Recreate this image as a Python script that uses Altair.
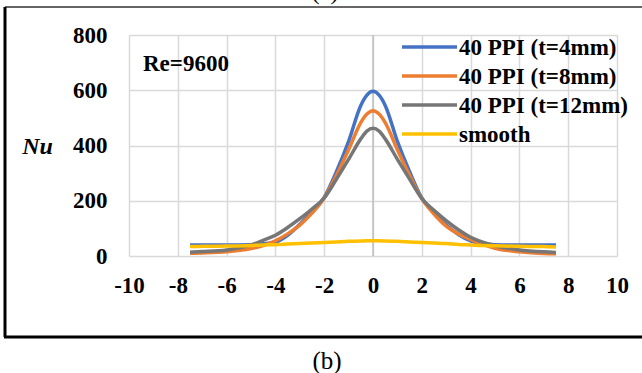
import altair as alt
import pandas as pd

# ---- data ----
x_vals = [-7.5, -7, -6, -5, -4.5, -4, -3.5, -3, -2.5, -2, -1.5, -1, -0.5, -0.25, 0,
          0.25, 0.5, 1, 1.5, 2, 2.5, 3, 3.5, 4, 4.5, 5, 6, 7, 7.5]
nu_t4 = [40, 40, 40, 41, 44, 50, 75, 115, 160, 212, 305, 415, 545, 582, 596,
         582, 545, 415, 305, 210, 158, 112, 78, 55, 45, 41, 40, 40, 40]
nu_t8 = [10, 11, 15, 27, 38, 55, 80, 112, 155, 210, 292, 385, 483, 514, 526,
         514, 483, 385, 292, 208, 152, 108, 80, 60, 42, 28, 15, 9, 8]
nu_t12 = [14, 16, 22, 40, 57, 75, 103, 135, 170, 210, 278, 350, 424, 452, 462,
          452, 424, 350, 278, 208, 165, 128, 95, 68, 50, 37, 22, 15, 13]
nu_smooth = [34, 35, 36, 38, 40, 41, 43, 45, 47, 49, 51, 53, 54, 55, 55,
             55, 54, 53, 51, 49, 47, 45, 42, 40, 38, 37, 35, 34, 33]

series_names = ["40 PPI (t=4mm)", "40 PPI (t=8mm)", "40 PPI (t=12mm)", "smooth"]
series_colors = ["#4472C4", "#ED7D31", "#767676", "#FFC000"]
series_values = [nu_t4, nu_t8, nu_t12, nu_smooth]

x_ticks = [-10, -8, -6, -4, -2, 0, 2, 4, 6, 8, 10]
y_ticks = [0, 200, 400, 600, 800]
annotation = "Re=9600"
caption = "(b)"
top_caption = "(a)"

rows = []
for name, vals in zip(series_names, series_values):
    for xv, yv in zip(x_vals, vals):
        rows.append({"x": xv, "Nu": yv, "series": name})
df = pd.DataFrame(rows)

FONT = "Liberation Serif"
W, H = 488, 221

color_scale = alt.Scale(domain=series_names, range=series_colors)
xs = alt.Scale(domain=[-10, 10], nice=False)
ys = alt.Scale(domain=[0, 800], nice=False)

label_expr = "datum.value < 0 ? '-' + abs(datum.value) : '' + datum.value"

base_axes = alt.Chart(df).mark_line(strokeWidth=0, opacity=0).encode(
    x=alt.X("x:Q", scale=xs,
            axis=alt.Axis(values=x_ticks, title="x/b", grid=True, gridColor="#d9d9d9",
                          gridWidth=1.5, domain=False, ticks=False, labelPadding=18,
                          labelExpr=label_expr, labelFlush=False, labelOverlap=False,
                          labelFont=FONT, labelFontSize=23, labelFontWeight="bold",
                          labelColor="black", titleFont=FONT, titleFontSize=24,
                          titleFontWeight="bold", titleFontStyle="italic",
                          titleColor="black", titleX=244, titleY=285,
                          titleBaseline="middle", titleAlign="center")),
    y=alt.Y("Nu:Q", scale=ys,
            axis=alt.Axis(values=y_ticks, title="Nu", grid=True, gridColor="#d9d9d9",
                          gridWidth=1.5, domain=False, ticks=False, labelPadding=22,
                          labelFlush=False,
                          labelFont=FONT, labelFontSize=23, labelFontWeight="bold",
                          labelColor="black", titleFont=FONT, titleFontSize=24,
                          titleFontWeight="bold", titleFontStyle="italic",
                          titleColor="black", titleAngle=0, titleX=-92, titleY=111,
                          titleBaseline="middle", titleAlign="center")),
)

zero_line = alt.Chart(pd.DataFrame({"x0": [0]})).mark_rule(
    color="#bfbfbf", strokeWidth=1.5).encode(x=alt.X("x0:Q", scale=xs))

layers = [base_axes, zero_line]
for name in series_names:
    layers.append(
        alt.Chart(df).transform_filter(alt.datum.series == name)
        .mark_line(strokeWidth=3.5, interpolate="monotone")
        .encode(x=alt.X("x:Q", scale=xs), y=alt.Y("Nu:Q", scale=ys),
                color=alt.Color("series:N", scale=color_scale, legend=None))
    )

# manual legend (one row per series)
for i, (name, col) in enumerate(zip(series_names, series_colors)):
    row_y = 12 + 29 * i
    ldf = pd.DataFrame({"series": [name]})
    layers.append(alt.Chart(ldf).mark_rule(strokeWidth=3.5, color=col).encode(
        x=alt.value(273), x2=alt.value(328), y=alt.value(row_y)))
    layers.append(alt.Chart(ldf).mark_text(
        align="left", baseline="middle", font=FONT, fontSize=23, fontWeight="bold",
        color="black").encode(x=alt.value(330), y=alt.value(row_y + 1), text="series:N"))

re_text = alt.Chart(pd.DataFrame({"t": [annotation]})).mark_text(
    align="left", baseline="middle", font=FONT, fontSize=23, fontWeight="bold",
    color="black").encode(x=alt.value(14), y=alt.value(29), text="t:N")

cap_b = alt.Chart(pd.DataFrame({"t": [caption]})).mark_text(
    align="center", baseline="middle", font=FONT, fontSize=25,
    color="black").encode(x=alt.value(198), y=alt.value(326), text="t:N")
cap_a = alt.Chart(pd.DataFrame({"t": [top_caption]})).mark_text(
    align="center", baseline="alphabetic", font=FONT, fontSize=25,
    color="black").encode(x=alt.value(196), y=alt.value(-36), text="t:N")

frame_df = pd.DataFrame({"k": [0]})
frame_top = alt.Chart(frame_df).mark_rule(color="#333333", strokeWidth=1.5).encode(
    x=alt.value(-124), x2=alt.value(520), y=alt.value(-28))
frame_left = alt.Chart(frame_df).mark_rule(color="black", strokeWidth=3).encode(
    x=alt.value(-124), y=alt.value(-28), y2=alt.value(302))
frame_bottom = alt.Chart(frame_df).mark_rule(color="black", strokeWidth=3).encode(
    x=alt.value(-125), x2=alt.value(520), y=alt.value(302))

chart = alt.layer(
    *layers, re_text, cap_b, cap_a, frame_top, frame_left, frame_bottom
).properties(
    width=W, height=H,
    autosize=alt.AutoSizeParams(type="none"),
    padding={"left": 129, "top": 35, "right": 25, "bottom": 117},
    background="white",
).configure_view(stroke=None)

chart.save("out.html", embed_options={"renderer": "svg", "actions": False})
